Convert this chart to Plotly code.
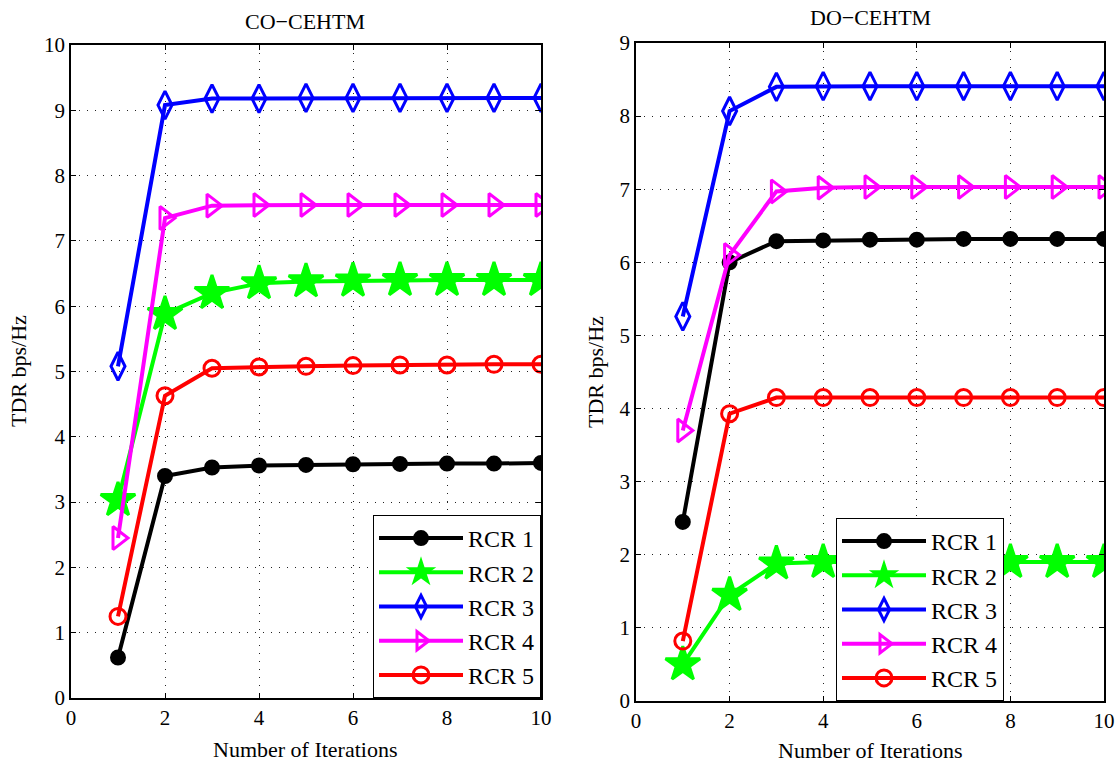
import plotly.graph_objects as go

iterations = [1, 2, 3, 4, 5, 6, 7, 8, 9, 10]
series_names = ["RCR 1", "RCR 2", "RCR 3", "RCR 4", "RCR 5"]

co_rcr1 = [0.62, 3.40, 3.53, 3.56, 3.57, 3.58, 3.585, 3.59, 3.59, 3.60]
co_rcr2 = [3.03, 5.88, 6.20, 6.35, 6.38, 6.39, 6.40, 6.40, 6.40, 6.40]
co_rcr3 = [5.08, 9.08, 9.18, 9.18, 9.19, 9.19, 9.19, 9.19, 9.19, 9.19]
co_rcr4 = [2.45, 7.35, 7.54, 7.55, 7.55, 7.55, 7.55, 7.55, 7.55, 7.55]
co_rcr5 = [1.25, 4.63, 5.05, 5.07, 5.08, 5.09, 5.10, 5.10, 5.11, 5.11]

do_rcr1 = [2.45, 6.00, 6.29, 6.30, 6.31, 6.31, 6.32, 6.32, 6.32, 6.32]
do_rcr2 = [0.50, 1.45, 1.88, 1.90, 1.90, 1.90, 1.90, 1.90, 1.90, 1.90]
do_rcr3 = [5.26, 8.07, 8.40, 8.41, 8.41, 8.41, 8.41, 8.41, 8.41, 8.41]
do_rcr4 = [3.70, 6.10, 6.97, 7.02, 7.03, 7.03, 7.03, 7.03, 7.03, 7.03]
do_rcr5 = [0.82, 3.93, 4.15, 4.15, 4.15, 4.15, 4.15, 4.15, 4.15, 4.15]

x_ticks = [0, 2, 4, 6, 8, 10]
co_y_ticks = [0, 1, 2, 3, 4, 5, 6, 7, 8, 9, 10]
do_y_ticks = [0, 1, 2, 3, 4, 5, 6, 7, 8, 9]

colors = ["#000000", "#00ff00", "#0000ff", "#ff00ff", "#ff0000"]
symbols = ["circle", "star", "diamond-tall-open", "triangle-right-open", "circle-open"]
sizes = [13, 26, 20, 20, 16]

FONT = "Liberation Serif"
fig = go.Figure()

co_data = [co_rcr1, co_rcr2, co_rcr3, co_rcr4, co_rcr5]
do_data = [do_rcr1, do_rcr2, do_rcr3, do_rcr4, do_rcr5]

for i, (name, ys) in enumerate(zip(series_names, co_data)):
    fig.add_trace(go.Scatter(
        x=iterations, y=ys, name=name, mode="lines+markers",
        xaxis="x", yaxis="y", legend="legend",
        line=dict(color=colors[i], width=4),
        marker=dict(symbol=symbols[i], size=sizes[i], color=colors[i],
                    line=dict(color=colors[i], width=3)),
    ))
for i, (name, ys) in enumerate(zip(series_names, do_data)):
    fig.add_trace(go.Scatter(
        x=iterations, y=ys, name=name, mode="lines+markers",
        xaxis="x2", yaxis="y2", legend="legend2",
        line=dict(color=colors[i], width=4),
        marker=dict(symbol=symbols[i], size=sizes[i], color=colors[i],
                    line=dict(color=colors[i], width=3)),
    ))

W, H = 1119, 763

def ax(domain, rng, ticks, anchor):
    return dict(domain=domain, range=rng, tickvals=ticks, ticktext=[str(t) for t in ticks],
                showline=True, linecolor="black", linewidth=1.5, mirror="ticks",
                ticks="inside", ticklen=5, tickcolor="black", automargin=False,
                showgrid=True, gridcolor="#222222", griddash="1px,7px", gridwidth=1,
                zeroline=False, anchor=anchor,
                tickfont=dict(family=FONT, size=21, color="black"))

legend_common = dict(bgcolor="white", bordercolor="black", borderwidth=1,
                     font=dict(family=FONT, size=24, color="black"),
                     xanchor="right", yanchor="bottom",
                     itemsizing="trace", itemwidth=84)


def label(text, x, y, angle=0):
    return dict(text=text, x=x / W, y=1 - y / H, xref="paper", yref="paper",
                xanchor="center", yanchor="middle", showarrow=False, textangle=angle,
                font=dict(family=FONT, size=22, color="black"))


fig.update_layout(
    width=W, height=H,
    margin=dict(l=0, r=0, t=0, b=0, autoexpand=False),
    paper_bgcolor="white", plot_bgcolor="white",
    font=dict(family=FONT, color="black"),
    xaxis=ax([71 / W, 541 / W], [0, 10], x_ticks, "y"),
    yaxis=ax([1 - 698 / H, 1 - 45 / H], [0, 10], co_y_ticks, "x"),
    xaxis2=ax([636 / W, 1104 / W], [0, 10], x_ticks, "y2"),
    yaxis2=ax([1 - 701 / H, 1 - 43 / H], [0, 9], do_y_ticks, "x2"),
    legend=dict(x=541 / W, y=1 - 698 / H, **legend_common),
    legend2=dict(x=1004 / W, y=1 - 701 / H, **legend_common),
    annotations=[
        label("CO\u2212CEHTM", 305, 21),
        label("DO\u2212CEHTM", 870, 18),
        label("Number of Iterations", 305, 749),
        label("Number of Iterations", 870, 750),
        label("TDR bps/Hz", 18, 371, -90),
        label("TDR bps/Hz", 595, 372, -90),
    ],
)

fig.write_html(
    "out.html",
    config={"displayModeBar": False},
    post_script="document.body.style.margin='0';document.body.style.overflow='hidden';",
)
